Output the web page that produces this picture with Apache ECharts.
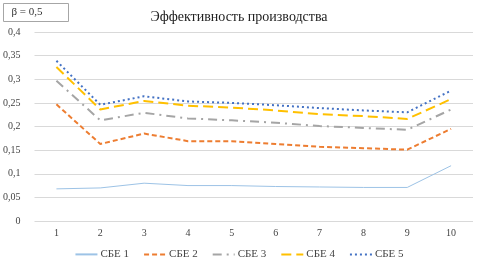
<!DOCTYPE html>
<html>
<head>
<meta charset="utf-8">
<script src="https://cdn.jsdelivr.net/npm/echarts@6/dist/echarts.min.js"></script>
<style>
  html, body { margin: 0; padding: 0; background: #fff; }
  #chart { width: 478px; height: 265px; }
</style>
</head>
<body>
<div id="chart"></div>
<script>
const categories = ['1', '2', '3', '4', '5', '6', '7', '8', '9', '10'];
const sbe1 = [0.068, 0.070, 0.080, 0.075, 0.075, 0.073, 0.072, 0.071, 0.071, 0.117];
const sbe2 = [0.247, 0.163, 0.185, 0.169, 0.169, 0.163, 0.157, 0.154, 0.151, 0.195];
const sbe3 = [0.297, 0.213, 0.229, 0.217, 0.213, 0.208, 0.201, 0.197, 0.193, 0.236];
const sbe4 = [0.326, 0.236, 0.254, 0.244, 0.240, 0.234, 0.226, 0.222, 0.216, 0.258];
const sbe5 = [0.339, 0.246, 0.264, 0.253, 0.250, 0.245, 0.239, 0.234, 0.230, 0.276];
const names = ['СБЕ 1', 'СБЕ 2', 'СБЕ 3', 'СБЕ 4', 'СБЕ 5'];

const font = 'Liberation Serif';

function line(name, data, color, type, width) {
  return {
    name: name,
    type: 'line',
    data: data,
    symbol: 'none',
    lineStyle: { color: color, width: width, type: type },
    itemStyle: { color: color }
  };
}

const myChart = echarts.init(document.getElementById('chart'));
myChart.setOption({
  animation: false,
  backgroundColor: '#fff',
  title: {
    text: 'Эффективность производства',
    left: 'center',
    top: 5,
    textStyle: { fontFamily: font, fontSize: 14, fontWeight: 'normal', color: '#222' }
  },
  graphic: [{
    type: 'group',
    left: 3,
    top: 3,
    children: [
      { type: 'rect', shape: { x: 0, y: 0, width: 65, height: 18 },
        style: { fill: '#fff', stroke: '#a6a6a6', lineWidth: 1 } },
      { type: 'text', x: 8, y: 3,
        style: { text: 'β = 0,5', fontFamily: font, fontSize: 11, fill: '#333' } }
    ]
  }],
  grid: { left: 31, right: 5, top: 32, bottom: 44 },
  legend: {
    bottom: 0,
    itemWidth: 22,
    itemGap: 14,
    itemStyle: { opacity: 0 },
    textStyle: { fontFamily: font, fontSize: 11, color: '#444', padding: [0, 0, 0, -2] },
    data: names
  },
  xAxis: {
    type: 'category',
    data: categories,
    boundaryGap: true,
    axisLine: { show: false },
    axisTick: { show: false },
    axisLabel: { fontFamily: font, fontSize: 10, color: '#444', margin: 7 }
  },
  yAxis: {
    type: 'value',
    min: 0,
    max: 0.4,
    interval: 0.05,
    axisLine: { show: false },
    axisTick: { show: false },
    splitLine: { lineStyle: { color: '#d9d9d9', width: 1 } },
    axisLabel: {
      fontFamily: font, fontSize: 10, color: '#444', margin: 14,
      formatter: function (v) { return String(Math.round(v * 100) / 100).replace('.', ','); }
    }
  },
  series: [
    line(names[0], sbe1, '#9dc3e6', 'solid', 1),
    line(names[1], sbe2, '#ed7d31', [5, 3], 2),
    line(names[2], sbe3, '#a5a5a5', [9, 5, 2, 5], 2),
    line(names[3], sbe4, '#ffc000', [10, 5], 2),
    line(names[4], sbe5, '#4472c4', [2, 3], 2)
  ]
});
</script>
</body>
</html>
